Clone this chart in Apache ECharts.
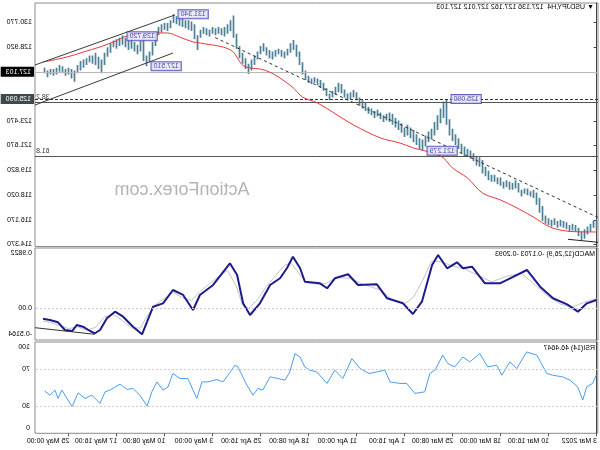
<!DOCTYPE html>
<html><head><meta charset="utf-8">
<script src="https://cdn.jsdelivr.net/npm/echarts@6/dist/echarts.min.js"></script>
<style>html,body{margin:0;padding:0;background:#fff}#c{width:600px;height:450px;transform:scaleX(-1);}</style>
</head><body><div id="c"></div><script>
// ---- data (bar index = 8-hour step starting 3 Mar 2022) ----
const lows = [
115.5,115.6,115.3,115.1,114.8,114.67,115.0,115.3,115.4,115.3,
115.5,115.6,115.7,115.6,115.8,115.7,115.8,115.9,116.1,116.7,
117.3,117.8,117.9,118.0,118.1,117.9,118.2,118.5,118.4,118.4,
118.6,118.5,118.7,118.8,119.0,119.0,119.1,119.4,119.6,120.1,
120.2,120.5,120.7,120.9,120.9,121.1,121.4,121.7,122.0,122.4,
123.2,123.7,123.3,122.8,122.4,122.1,121.9,121.6,121.28,121.4,
121.7,121.9,122.2,122.4,122.3,122.6,122.8,123.0,123.2,123.4,
123.5,123.4,123.6,123.8,123.7,123.9,124.0,124.2,124.4,124.6,
125.0,125.2,125.1,125.0,125.2,125.5,125.6,125.4,125.2,125.0,
125.3,125.7,125.9,126.1,126.3,126.2,126.3,126.5,126.9,127.6,
128.2,128.7,128.5,128.3,128.1,128.2,128.4,128.2,128.0,128.1,
128.3,128.6,128.4,128.0,127.6,127.2,126.94,127.3,127.7,128.1,
128.8,129.6,130.1,129.9,129.7,129.8,129.9,129.8,129.9,129.7,
129.8,129.9,129.6,128.7,129.5,130.1,130.2,130.3,130.4,130.5,
130.6,130.7,130.3,130.1,130.2,130.0,129.8,129.0,128.3,127.8,
127.51,127.9,128.6,128.4,128.6,128.8,128.7,128.9,129.1,129.0,
128.8,128.9,128.5,128.2,127.6,127.0,127.3,127.6,127.7,127.8,
127.6,127.4,127.2,127.0,126.36,126.6,126.9,126.8,127.0,127.1,
126.9,126.8,126.9,126.7,127.0];
const highs = [
116.2,116.1,115.9,115.7,115.5,115.3,115.6,115.8,115.9,115.8,
116.0,116.1,116.2,116.1,116.3,116.2,116.3,116.5,117.2,117.8,
118.2,118.4,118.3,118.5,118.5,118.4,118.9,119.1,118.9,119.0,
119.1,119.0,119.3,119.3,119.5,119.5,119.8,120.1,120.6,120.8,
120.9,121.1,121.3,121.4,121.6,121.8,122.2,122.5,122.9,123.6,
125.09,124.9,124.4,123.9,123.4,122.9,122.7,122.4,122.1,122.2,
122.5,122.8,123.0,123.2,123.0,123.3,123.5,123.7,124.0,124.1,
124.0,123.9,124.1,124.3,124.2,124.4,124.5,124.8,125.0,125.2,
125.6,125.75,125.6,125.5,125.8,126.2,126.3,126.0,125.7,125.5,
125.9,126.3,126.5,126.6,126.7,126.6,126.8,127.2,127.8,128.6,
129.1,129.44,129.2,128.8,128.6,128.7,128.8,128.7,128.6,128.7,
128.9,129.2,129.0,128.6,128.3,128.0,127.7,128.1,128.5,129.0,
129.9,131.25,130.9,130.6,130.4,130.3,130.4,130.3,130.4,130.2,
130.3,130.4,130.2,129.8,130.6,130.8,130.9,130.9,131.0,131.1,
131.2,131.34,130.9,130.7,130.7,130.6,130.4,130.0,129.3,128.6,
128.3,129.9,129.4,129.1,129.3,129.5,129.4,129.6,129.77,129.6,
129.5,129.4,129.2,128.9,128.5,128.0,128.2,128.5,128.3,128.3,
128.1,128.0,127.9,127.6,127.2,127.3,127.4,127.3,127.5,127.6,
127.4,127.3,127.3,127.2,127.4];
const maPts = [[0,115.29],[4.5,115.30],[10,115.36],[15.5,115.66],[21,116.39],[26.5,117.06],[32,117.65],[38,118.16],[43,119.27],[48,120.01],[51,120.74],[54.5,121.11],[61,121.48],[65.5,121.85],[72,122.22],[81,123.18],[88,124.13],[93,124.80],[98,125.24],[101,125.90],[105.5,126.64],[109,127.08],[112,127.30],[115.5,127.38],[118,127.60],[122,128.71],[132,129.22],[134.5,129.30],[139,129.66],[143,129.96],[150,129.96],[156.5,129.74],[161,129.30],[165.5,128.93],[171,128.56],[176.5,128.19],[184.5,127.82]];
const macdPts = [[0,0.135],[3.2,0.081],[6.2,-0.055],[9.8,0.065],[14.5,0.163],[18.8,0.352],[23.2,0.624],[28.8,0.489],[32.2,0.407],[37.2,0.407],[41.5,0.678],[44.5,0.652],[46.5,0.749],[49.8,0.652],[52.8,0.868],[54.8,0.705],[58.2,0.108],[61.2,-0.093],[64.5,0.081],[69.8,0.163],[73.2,0.391],[79.5,0.380],[82.8,0.554],[87.2,0.489],[89.8,0.326],[92.2,0.407],[97.2,0.433],[98.8,0.652],[101.2,0.841],[103.2,0.652],[105.5,0.489],[108.8,0.380],[112.2,0.081],[115.5,-0.109],[117.8,0.081],[119.8,0.542],[122.2,0.733],[127.8,0.380],[132.2,0.217],[134.5,-0.028],[137.8,0.217],[141.2,0.298],[144.5,0.081],[147.8,0.026],[149.8,-0.218],[151.5,-0.424],[154.5,-0.300],[157.8,-0.137],[160.5,-0.055],[163.2,-0.163],[165.5,-0.353],[167.2,-0.407],[168.8,-0.370],[171.2,-0.300],[173.2,-0.272],[174.8,-0.370],[177.2,-0.353],[179.5,-0.228],[182.2,-0.191],[184.5,-0.170]];
const signalPts = [[0,0.16],[4,0.10],[8,0.02],[12,0.07],[16,0.19],[20,0.36],[25,0.57],[30,0.52],[35,0.43],[40,0.55],[44,0.64],[48,0.69],[52,0.76],[55,0.77],[58,0.45],[61,0.18],[64,0.07],[68,0.13],[72,0.30],[78,0.39],[82,0.49],[87,0.50],[90,0.41],[93,0.39],[97,0.42],[100,0.62],[102,0.74],[104,0.70],[107,0.53],[110,0.36],[113,0.14],[116,0.00],[118,0.05],[120,0.35],[123,0.62],[127,0.48],[132,0.28],[135,0.13],[138,0.17],[141,0.26],[144,0.16],[147,0.06],[150,-0.14],[152,-0.32],[155,-0.32],[158,-0.20],[161,-0.10],[164,-0.14],[167,-0.31],[170,-0.36],[173,-0.30],[176,-0.33],[179,-0.28],[182,-0.23],[184.5,-0.209]];
const rsiPts = [[0,63.6],[1.2,54.6],[3.2,50.9],[4.5,36.4],[6.2,50.9],[8.8,58.2],[11.2,61.8],[14.5,63.6],[16.5,65.5],[19.8,85.5],[23.2,89.1],[26.5,71.0],[28.8,78.2],[31.5,63.6],[33.2,74.6],[36.2,72.7],[38.8,87.3],[42.2,78.2],[44.5,83.6],[47.2,72.7],[49.5,76.4],[51.2,85.5],[53.8,69.1],[55.5,65.5],[57.2,45.4],[60.5,43.7],[63.2,54.6],[65.5,54.6],[68.8,56.3],[70.5,69.1],[73.2,67.2],[75.8,65.5],[78.8,71.0],[81.5,81.9],[84.5,60.0],[87.2,69.1],[89.8,54.6],[93.2,67.2],[95.5,69.1],[97.2,72.7],[98.8,83.6],[100.5,87.3],[102.2,67.2],[103.8,58.2],[106.2,60.0],[108.8,61.8],[111.2,47.3],[112.8,49.1],[114.5,41.8],[116.5,52.7],[119.5,72.7],[120.5,74.6],[122.8,63.6],[124.5,56.3],[126.5,58.9],[129.5,56.3],[131.5,56.3],[133.2,38.2],[136.2,60.0],[138.8,60.0],[141.2,65.5],[142.8,50.9],[144.5,47.3],[146.5,56.3],[148.2,45.4],[149.8,29.8],[152.2,41.8],[154.5,49.1],[156.5,48.0],[158.8,53.8],[162.2,47.3],[163.8,45.4],[165.5,32.8],[168.2,41.8],[170.5,38.2],[172.8,44.3],[174.8,29.0],[178.2,47.3],[179.5,38.2],[180.5,47.3],[182.2,41.8],[184,46.46]];
const priceTicks = [114.37,116.17,118.02,119.82,121.67,123.47,128.92,130.77];
const macdTicks = [-0.5164,0,0.9822];
const rsiTicks = [0,30,70,100];
const timeLabels = ['3 Mar 2022','10 Mar 16:00','18 Mar 00:00','25 Mar 08:00','1 Apr 16:00','11 Apr 00:00','18 Apr 08:00','25 Apr 16:00','3 May 00:00','10 May 08:00','17 May 16:00','25 May 00:00'];
const timeLabelBars = [0,16,32,48,64,80,96,112,128,144,160,176];
const labelPrices = [131.340,129.720,127.510,125.090,121.279];
const labelBars = [141,158,150,50,58];
const bidPrice = 127.103;
const hlinePrice = 125.090;
const fibNames = ['38.2','61.8'];
const fibPrices = [124.87,120.89];
const channelUpper = [[140.5,131.29],[187.17,127.60]];
const channelLower = [[141.2,128.48],[187.17,124.65]];
const downTrend = [[-0.5,116.36],[127.8,129.69]];
const supportLine = [[-0.5,114.53],[9.5,114.75]];
const macdTrend = [[167.2,-0.424],[187.17,-0.316]];
const titleMain = 'USDJPY,H4  127.136 127.162 127.012 127.103';
const titleMacd = 'MACD(12,26,9) -0.1703 -0.2093';
const titleRsi = 'RSI(14) 46.4647';

// ---- chart ----
const FF = 'Liberation Sans, Arial, sans-serif';
const XMAX = 187.17;
const chart = echarts.init(document.getElementById('c'), null, {renderer:'canvas'});
const gridBase = {left:2, right:35, show:true, borderColor:'#8a8a8a', borderWidth:1};
function xAx(i, labels){
  return {type:'value', gridIndex:i, min:-0.5, max:XMAX, splitLine:{show:false},
    axisLine:{show:false}, axisTick: labels ? {show:true, customValues: timeLabelBars.map(b=>b-0.25), length:3, lineStyle:{color:'#555'}} : {show:false},
    axisLabel: labels ? {show:true, customValues: timeLabelBars.map(b=>b-0.25), formatter:(v,idx)=>timeLabels[Math.round((v+0.25)/16)], align:'left', margin:4, fontSize:7, fontFamily:FF, color:'#000'} : {show:false}};
}
function lineSeries(pts, xi, yi, color, width, type, z){
  return {type:'line', xAxisIndex:xi, yAxisIndex:yi, data:pts, symbol:'none', silent:true, z:z||3,
    lineStyle:{color:color, width:width, type:type||'solid'}};
}
const option = {
  animation:false,
  backgroundColor:'#fff',
  grid:[Object.assign({top:3, height:243.5}, gridBase), Object.assign({top:248, height:92}, gridBase), Object.assign({top:342, height:91.3}, gridBase)],
  xAxis:[xAx(0,false), xAx(1,false), xAx(2,true)],
  yAxis:[
    {type:'value', gridIndex:0, position:'right', min:114.22, max:132.17, splitLine:{show:false},
     axisLine:{show:true, lineStyle:{color:'#444'}},
     axisTick:{show:true, customValues:priceTicks, length:3, lineStyle:{color:'#444'}},
     axisLabel:{customValues:priceTicks, formatter:v=>v.toFixed(3), margin:3, fontSize:7, fontFamily:FF, color:'#000'}},
    {type:'value', gridIndex:1, position:'right', min:-0.5164, max:0.9822, splitLine:{show:false},
     axisLine:{show:true, lineStyle:{color:'#444'}},
     axisTick:{show:false},
     axisLabel:{customValues:macdTicks, margin:3, fontSize:7, fontFamily:FF, color:'#000',
       formatter:v=> v===0 ? '0.00' : (v>0 ? '{t|'+v.toFixed(4)+'}' : '{b|'+v.toFixed(4)+'}'),
       rich:{t:{fontSize:7, fontFamily:FF, color:'#000', padding:[11,0,0,0]}, b:{fontSize:7, fontFamily:FF, color:'#000', padding:[0,0,11,0]}}}},
    {type:'value', gridIndex:2, position:'right', min:0, max:100, splitLine:{show:false},
     axisLine:{show:true, lineStyle:{color:'#444'}},
     axisTick:{show:false},
     axisLabel:{customValues:rsiTicks, margin:5, fontSize:7, fontFamily:FF, color:'#000',
       formatter:v=> v===100 ? '{t|100}' : (v===0 ? '{b|0}' : String(v)),
       rich:{t:{fontSize:7, fontFamily:FF, color:'#000', padding:[11,0,0,0]}, b:{fontSize:7, fontFamily:FF, color:'#000', padding:[0,0,11,0]}}}}
  ],
  graphic:[
    {type:'text', x:6, y:4, style:{text:'▼', font:'7px '+FF, fill:'#000'}},
    {type:'text', x:15, y:4, style:{text:titleMain, font:'7px '+FF, fill:'#000'}},
    {type:'text', x:5, y:251, style:{text:titleMacd, font:'7px '+FF, fill:'#000'}},
    {type:'text', x:5, y:345, style:{text:titleRsi, font:'7px '+FF, fill:'#000'}},
    {type:'text', x:418, y:190, style:{text:'ActionForex.com', font:'18px '+FF, fill:'#b4b4b4', textAlign:'center', textVerticalAlign:'middle'}}
  ],
  series:[
    // horizontal levels
    {type:'line', xAxisIndex:0, yAxisIndex:0, data:[], symbol:'none', silent:true, z:1,
     markLine:{symbol:'none', silent:true, animation:false, data:[
       {yAxis:bidPrice, lineStyle:{color:'#b8b8b8', width:1, type:'solid'},
        label:{show:true, position:'end', distance:1, formatter:bidPrice.toFixed(3), backgroundColor:'#000', color:'#fff', fontSize:7, fontFamily:FF, padding:[2,5,1,3]}},
       {yAxis:hlinePrice, lineStyle:{color:'#333', width:1, type:[3,2]},
        label:{show:true, position:'end', distance:1, formatter:hlinePrice.toFixed(3), backgroundColor:'#3e4a4a', color:'#fff', fontSize:7, fontFamily:FF, padding:[2,5,1,3]}},
       {yAxis:fibPrices[0], lineStyle:{color:'#555', width:1, type:'solid'},
        label:{show:true, position:'insideEndTop', distance:[1,1], formatter:fibNames[0], color:'#334', fontSize:7, fontFamily:FF}},
       {yAxis:fibPrices[1], lineStyle:{color:'#555', width:1, type:'solid'},
        label:{show:true, position:'insideEndTop', distance:[1,1], formatter:fibNames[1], color:'#334', fontSize:7, fontFamily:FF}}
     ]}},
    // price bars
    {type:'custom', xAxisIndex:0, yAxisIndex:0, z:4, silent:true, clip:true,
     data: lows.map((l,i)=>[i,l,highs[i]]), encode:{x:0, y:[1,2]},
     renderItem:function(params, api){
       const x=api.value(0);
       const a=api.coord([x, api.value(2)]), b=api.coord([x, api.value(1)]);
       return {type:'rect', shape:{x:a[0]-0.85, y:a[1], width:1.7, height:Math.max(1,b[1]-a[1])}, style:{fill:'#4d7f95'}};
     }},
    Object.assign(lineSeries(maPts,0,0,'#e8373c',1), {smooth:0.35, z:5}),
    lineSeries(channelUpper,0,0,'#3a3a3a',1,'solid',5),
    lineSeries(channelLower,0,0,'#3a3a3a',1,'solid',5),
    lineSeries(downTrend,0,0,'#333',1,[3,3],5),
    lineSeries(supportLine,0,0,'#222',1,'solid',5),
    // price labels
    {type:'scatter', xAxisIndex:0, yAxisIndex:0, symbolSize:0, z:8, silent:true,
     data: labelBars.map((b,i)=>[b, labelPrices[i]]),
     label:{show:true, position:'left', distance:5, formatter:p=>p.value[1].toFixed(3),
       backgroundColor:'#e6e6f8', borderColor:'#3838b8', borderWidth:1, color:'#20208a', fontSize:7, fontFamily:FF, padding:[1,2,0,2]}},
    // MACD
    {type:'line', xAxisIndex:1, yAxisIndex:1, data:[], symbol:'none', silent:true, z:1,
     markLine:{symbol:'none', silent:true, label:{show:false}, data:[{yAxis:0, lineStyle:{color:'#c8c8c8', width:1, type:[2,2]}}]}},
    lineSeries(signalPts,1,1,'#c4c4c4',1,'solid',3),
    lineSeries(macdPts,1,1,'#1c1c8e',2,'solid',4),
    lineSeries(macdTrend,1,1,'#333',1,'solid',5),
    // RSI
    {type:'line', xAxisIndex:2, yAxisIndex:2, data:[], symbol:'none', silent:true, z:1,
     markLine:{symbol:'none', silent:true, label:{show:false}, data:[
       {yAxis:70, lineStyle:{color:'#c8c8c8', width:1, type:[2,2]}},
       {yAxis:30, lineStyle:{color:'#c8c8c8', width:1, type:[2,2]}}]}},
    lineSeries(rsiPts,2,2,'#4b9cf0',1,'solid',4)
  ]
};
chart.setOption(option);
</script></body></html>
